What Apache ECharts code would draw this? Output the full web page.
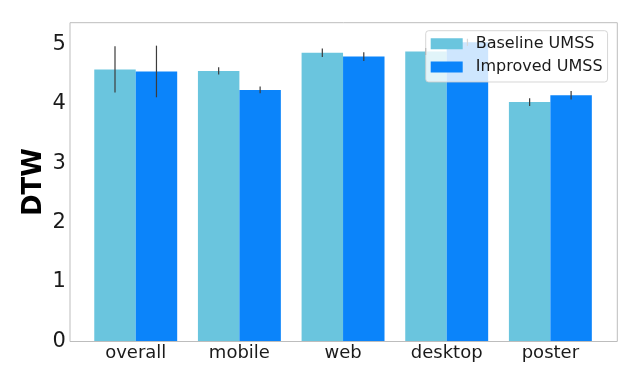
<!DOCTYPE html>
<html>
<head>
<meta charset="utf-8">
<script src="https://cdn.jsdelivr.net/npm/echarts@6/dist/echarts.min.js"></script>
<style>html,body{margin:0;padding:0;background:#fff}#c{width:640px;height:384px}</style>
</head>
<body>
<div id="c"></div>
<script>
const categories = ['overall', 'mobile', 'web', 'desktop', 'poster'];
const seriesNames = ['Baseline UMSS', 'Improved UMSS'];
const baselineValues = [4.575, 4.55, 4.855, 4.875, 4.025];
const improvedValues = [4.54, 4.23, 4.79, 5.03, 4.14];
const baselineErrors = [0.39, 0.061, 0.073, 0.06, 0.065];
const improvedErrors = [0.434, 0.056, 0.073, 0.06, 0.07];
const yTicks = [0, 1, 2, 3, 4, 5];
const yMax = 5.36;

const FONT = 'DejaVu Sans';
const colors = ['#6ac5de', '#0b84fa'];

function errorSeries(values, errors, side) {
  return {
    type: 'custom',
    xAxisIndex: 1, yAxisIndex: 1,
    z: 5,
    silent: true,
    data: values.map((v, i) => [i, v, errors[i]]),
    renderItem: function (params, api) {
      const i = api.value(0), v = api.value(1), e = api.value(2);
      const band = api.size([1, 0])[0];
      const off = side * band * 0.2;
      const p1 = api.coord([i, v + e]);
      const p2 = api.coord([i, v - e]);
      return {
        type: 'line',
        shape: { x1: p1[0] + off, y1: p1[1], x2: p2[0] + off, y2: p2[1] },
        style: { stroke: '#3c3c3c', lineWidth: 1.2 }
      };
    }
  };
}

const chart = echarts.init(document.getElementById('c'), null, { renderer: 'canvas' });
chart.setOption({
  animation: false,
  textStyle: { fontFamily: FONT },
  grid: [
    { left: 70, top: 22.7, width: 547.3, height: 318.8, show: true, borderColor: '#bdbdbd', borderWidth: 1, backgroundColor: 'transparent', z: 10 },
    { left: 83.9, top: 22.7, width: 518.3, height: 318.8 }
  ],
  xAxis: [
    { gridIndex: 0, type: 'value', show: false, min: 0, max: 1 },
    {
      gridIndex: 1, type: 'category', data: categories,
      axisLine: { show: false }, axisTick: { show: false },
      axisLabel: { color: '#1a1a1a', fontSize: 18, fontFamily: FONT, margin: 3 }
    }
  ],
  yAxis: [
    { gridIndex: 0, type: 'value', show: false, min: 0, max: 1 },
    {
      gridIndex: 1, type: 'value', min: 0, max: yMax, interval: 1,
      axisLine: { show: false }, axisTick: { show: false }, splitLine: { show: false },
      axisLabel: {
        color: '#1a1a1a', fontSize: 21, fontFamily: FONT, margin: 18,
        customValues: yTicks
      },
      name: 'DTW', nameLocation: 'middle', nameRotate: 90, nameGap: 37,
      nameMoveOverlap: false,
      nameTextStyle: { fontSize: 26, fontWeight: 'bold', color: '#000', fontFamily: FONT }
    }
  ],
  legend: {
    orient: 'vertical',
    left: 425.7, top: 30.7,
    data: seriesNames,
    icon: 'rect',
    itemWidth: 32, itemHeight: 11,
    itemGap: 3.3,
    padding: [3, 5, 5, 5],
    backgroundColor: 'rgba(255,255,255,0.8)',
    borderColor: 'rgba(204,204,204,0.8)', borderWidth: 1, borderRadius: 3,
    textStyle: { fontSize: 16, color: '#1a1a1a', fontFamily: FONT, lineHeight: 20, padding: [0, 0, 0, 8] },
    z: 20
  },
  series: [
    {
      name: seriesNames[0], type: 'bar', xAxisIndex: 1, yAxisIndex: 1,
      data: baselineValues, barWidth: '40%', barGap: '0%',
      itemStyle: { color: colors[0] }
    },
    {
      name: seriesNames[1], type: 'bar', xAxisIndex: 1, yAxisIndex: 1,
      data: improvedValues, barWidth: '40%', barGap: '0%',
      itemStyle: { color: colors[1] }
    },
    errorSeries(baselineValues, baselineErrors, -1),
    errorSeries(improvedValues, improvedErrors, 1)
  ]
});
</script>
</body>
</html>
